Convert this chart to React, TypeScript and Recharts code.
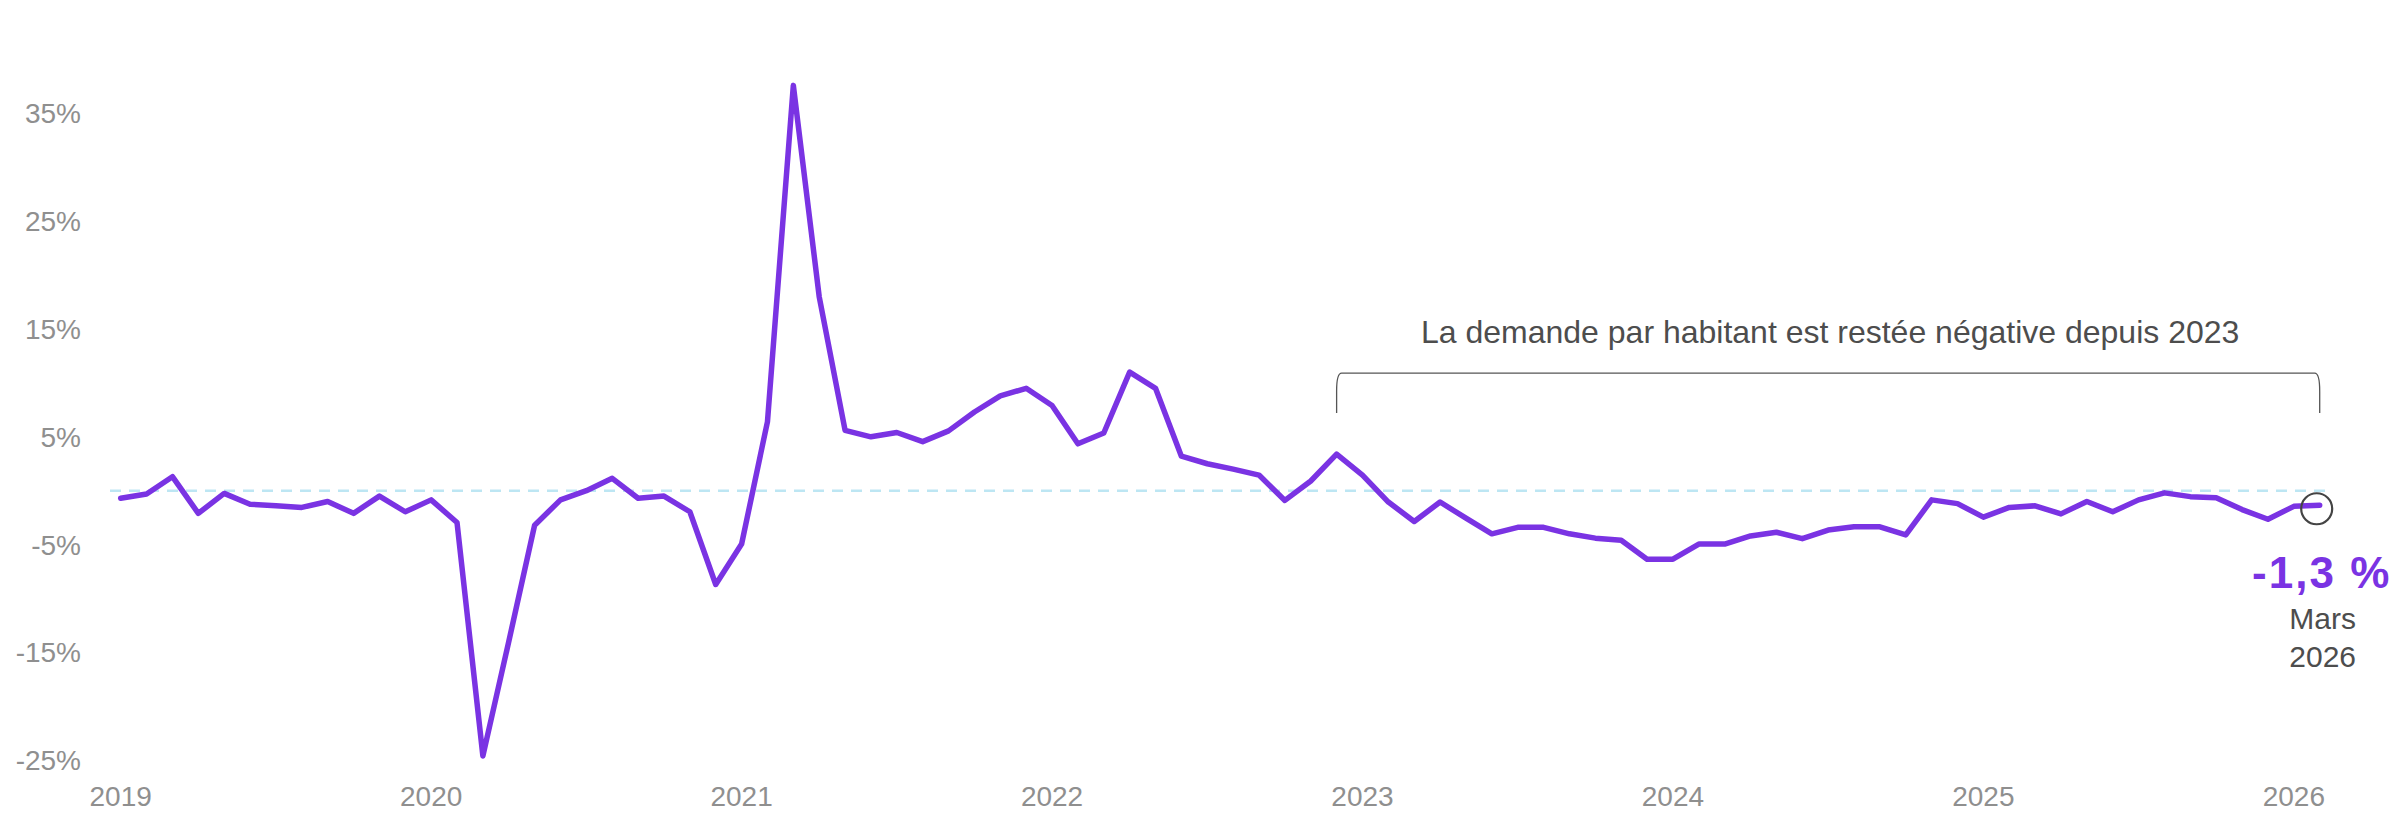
import React from "react";
import {
  LineChart,
  Line,
  XAxis,
  YAxis,
  ReferenceLine,
  ReferenceArea,
  ReferenceDot,
} from "recharts";

// Monthly year-over-year change (%), Jan 2019 → last observation
const values: number[] = [
  -0.7, -0.3, 1.3, -2.1, -0.25, -1.25, -1.4, -1.55, -1.0, -2.1, -0.5, -1.95,
  -0.85, -2.95, -24.6, -14.0, -3.2, -0.85, 0.0, 1.15, -0.7, -0.5, -1.95, -8.7,
  -4.95, 6.4, 37.6, 18.0, 5.6, 5.0, 5.4, 4.55, 5.55, 7.3, 8.8, 9.5,
  7.9, 4.35, 5.35, 11.0, 9.5, 3.2, 2.5, 2.0, 1.45, -0.9, 0.9, 3.4,
  1.45, -1.05, -2.85, -1.05, -2.55, -4.0, -3.4, -3.4, -4.0, -4.4, -4.6, -6.35,
  -6.35, -4.95, -4.95, -4.2, -3.85, -4.45, -3.65, -3.35, -3.35, -4.1, -0.85, -1.2,
  -2.45, -1.55, -1.4, -2.15, -1.0, -1.95, -0.85, -0.2, -0.55, -0.65, -1.75, -2.65,
  -1.45, -1.35,
];

const yearLabels: string[] = ["2019", "2020", "2021", "2022", "2023", "2024", "2025", "2026"];
const yTicks: number[] = [-25, -15, -5, 5, 15, 25, 35];

const annotationText = "La demande par habitant est restée négative depuis 2023";
const bracketStartIndex = 47;
const lastValueLabel = "-1,3 %";
const lastDateLabel: string[] = ["Mars", "2026"];

const data = values.map((v, i) => ({ i, v }));
const lastIndex = values.length - 1;
const xTicks = yearLabels.map((_, k) => k * 12);

const PURPLE = "#7a33e3";
const GRAY = "#8f8f8f";
const DARK = "#4d4d4d";
const FONT = "'Liberation Sans', Arial, Helvetica, sans-serif";

const Bracket = (props: any) => {
  const { x, y, width, height } = props;
  const left = x;
  const right = x + width;
  const top = y;
  const bottom = y + height;
  const d = `M ${left} ${bottom} L ${left} ${top + 18} Q ${left} ${top} ${left + 5} ${top} L ${right - 5} ${top} Q ${right} ${top} ${right} ${top + 18} L ${right} ${bottom}`;
  return (
    <g>
      <path d={d} fill="none" stroke="#555" strokeWidth={1.3} />
      <text
        x={(left + right) / 2 + 2}
        y={top - 30}
        textAnchor="middle"
        fontSize={32}
        fill={DARK}
        fontFamily={FONT}
      >
        {annotationText}
      </text>
    </g>
  );
};

const EndMarker = (props: any) => {
  const { cx, cy } = props;
  return (
    <g>
      <circle cx={cx - 3} cy={cy + 3.5} r={15.5} fill="none" stroke="#444" strokeWidth={2.2} />
      <text
        x={cx + 2}
        y={cy + 83}
        textAnchor="middle"
        fontSize={44}
        fontWeight={900}
        letterSpacing={2}
        fill={PURPLE}
        fontFamily={FONT}
      >
        {lastValueLabel}
      </text>
      <text x={cx + 3} y={cy + 124} textAnchor="middle" fontSize={30} fill={DARK} fontFamily={FONT}>
        {lastDateLabel[0]}
      </text>
      <text x={cx + 3} y={cy + 161.5} textAnchor="middle" fontSize={30} fill={DARK} fontFamily={FONT}>
        {lastDateLabel[1]}
      </text>
    </g>
  );
};

export default function App() {
  return (
    <div style={{ position: "absolute", left: 0, top: 0, width: 2407, height: 822, background: "#fff" }}>
      <LineChart
        width={2407}
        height={822}
        data={data}
        margin={{ top: 59.5, right: 75, bottom: 21, left: 0 }}
      >
        <XAxis
          dataKey="i"
          type="number"
          domain={[0, lastIndex]}
          ticks={xTicks}
          tickFormatter={(v: number) => yearLabels[Math.round(v / 12)]}
          axisLine={false}
          tickLine={false}
          padding={{ left: 10.7, right: 12.3 }}
          height={30}
          tickMargin={9}
          tick={{ fontSize: 28, fill: GRAY, fontFamily: FONT }}
          interval={0}
        />
        <YAxis
          type="number"
          domain={[-26, 40]}
          ticks={yTicks}
          tickFormatter={(v: number) => `${v}%`}
          axisLine={false}
          tickLine={false}
          width={110}
          tickMargin={23}
          tick={{ fontSize: 28, fill: GRAY, fontFamily: FONT }}
          interval={0}
        />
        <ReferenceLine y={0} stroke="#bde6f3" strokeWidth={2.5} strokeDasharray="11 8" />
        <ReferenceArea
          x1={bracketStartIndex}
          x2={lastIndex}
          y1={7.2}
          y2={10.9}
          shape={<Bracket />}
        />
        <Line
          type="linear"
          dataKey="v"
          stroke={PURPLE}
          strokeWidth={5.5}
          dot={false}
          strokeLinejoin="round"
          strokeLinecap="round"
          isAnimationActive={false}
        />
        <ReferenceDot x={lastIndex} y={values[lastIndex]} r={15} shape={<EndMarker />} />
      </LineChart>
    </div>
  );
}
